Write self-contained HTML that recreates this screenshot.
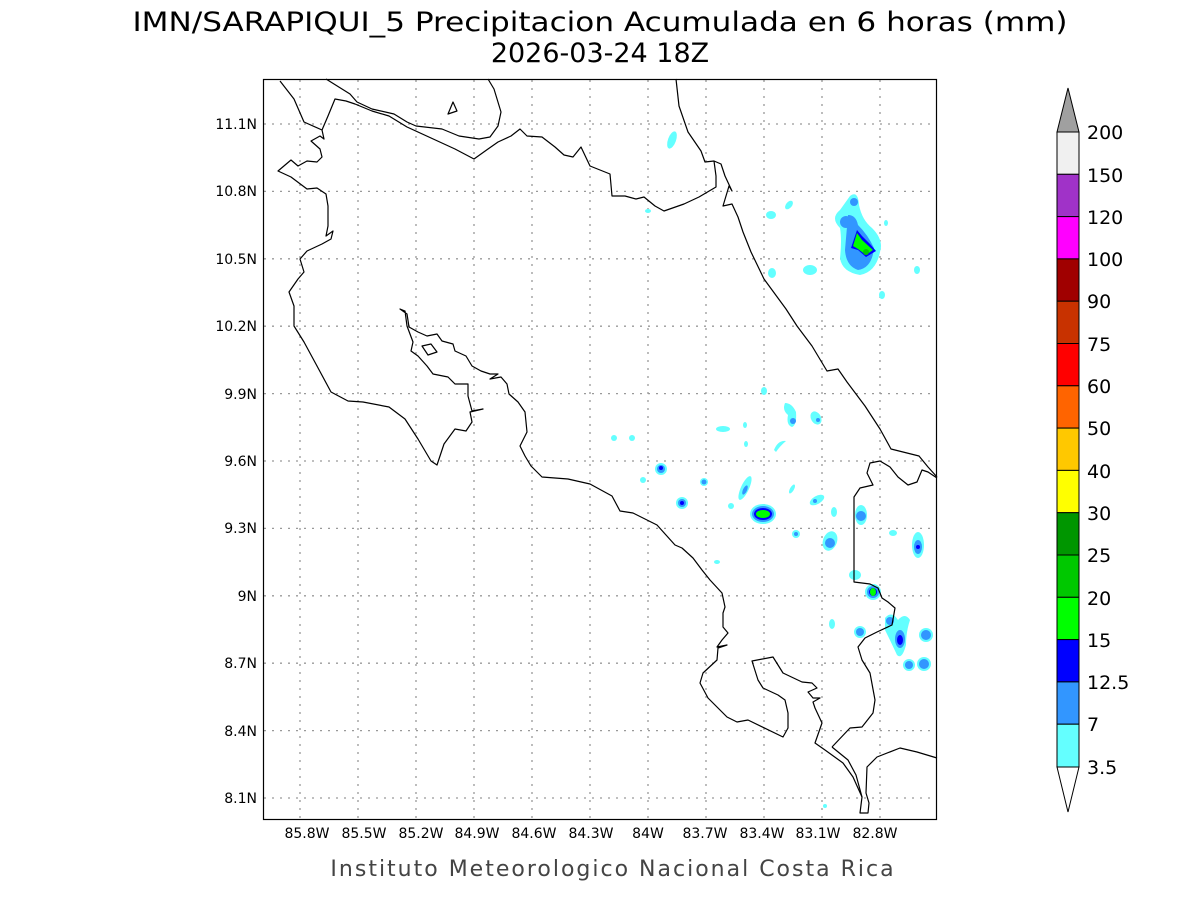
<!DOCTYPE html>
<html><head><meta charset="utf-8"><style>
body{margin:0;background:#fff}
svg{display:block}
text{font-family:"DejaVu Sans","Liberation Sans",sans-serif}
</style></head><body>
<svg width="1200" height="900" xmlns="http://www.w3.org/2000/svg">
<rect width="1200" height="900" fill="#fff"/>
<text x="600" y="31" font-size="27" text-anchor="middle" textLength="935" lengthAdjust="spacingAndGlyphs" fill="#000">IMN/SARAPIQUI_5 Precipitacion Acumulada en 6 horas (mm)</text>
<text x="600" y="62" font-size="27" text-anchor="middle" fill="#000">2026-03-24 18Z</text>
<g stroke="#999" stroke-width="1.3" stroke-dasharray="2,6" fill="none">
<path d="M300 80V819M358 80V819M416 80V819M474 80V819M532 80V819M590 80V819M648 80V819M706 80V819M764 80V819M822 80V819M880 80V819"/>
<path d="M264 124H937M264 191.4H937M264 258.8H937M264 326.2H937M264 393.6H937M264 461H937M264 528.4H937M264 595.8H937M264 663.2H937M264 730.6H937M264 798H937"/>
</g>
<!-- precip -->
<g>
<ellipse cx="672" cy="140" rx="4" ry="9" fill="#64ffff" transform="rotate(20 672 140)"/>
<path d="M850 196 Q858 190 859 205 Q862 220 872 228 Q884 240 880 252 Q876 272 860 275 Q842 272 840 258 Q842 240 840 228 Q830 218 840 210 Z" fill="#64ffff"/>
<path d="M848 215 Q856 215 858 225 Q868 235 874 248 Q872 268 858 270 Q846 266 845 250 Z" fill="#3296ff"/>
<circle cx="846" cy="222" r="6" fill="#3296ff"/><circle cx="854" cy="202" r="4" fill="#3296ff"/>
<path d="M857 230 L862 236 L870 244 L876 251 L866 257 L858 250 L851 248 Z" fill="#0000ff"/>
<path d="M857 233 L862 240 L873 250 L866 255 L858 249 L853 246 Z" fill="#00ff00"/>
<circle cx="866" cy="252" r="3" fill="#00c800"/>
<ellipse cx="771" cy="215" rx="5" ry="4" fill="#64ffff"/><ellipse cx="789" cy="205" rx="3" ry="5" fill="#64ffff" transform="rotate(40 789 205)"/>
<ellipse cx="810" cy="270" rx="7" ry="5" fill="#64ffff"/><ellipse cx="772" cy="273" rx="4" ry="5" fill="#64ffff"/>
<ellipse cx="917" cy="270" rx="3" ry="4" fill="#64ffff"/><ellipse cx="882" cy="295" rx="3" ry="4" fill="#64ffff"/>
<ellipse cx="886" cy="223" rx="2" ry="3" fill="#64ffff"/><ellipse cx="648" cy="211" rx="3" ry="2" fill="#64ffff"/>
<ellipse cx="764" cy="391" rx="3" ry="4" fill="#64ffff"/>
<path d="M785 403 Q792 403 796 412 Q797 425 792 427 Q786 425 788 415 Q782 410 785 403Z" fill="#64ffff"/><circle cx="793" cy="421" r="3" fill="#3296ff"/>
<ellipse cx="816" cy="418" rx="5" ry="7" fill="#64ffff" transform="rotate(-30 816 418)"/><circle cx="818" cy="420" r="2" fill="#3296ff"/>
<ellipse cx="723" cy="429" rx="7" ry="3" fill="#64ffff"/><ellipse cx="745" cy="425" rx="2" ry="3" fill="#64ffff"/>
<path d="M774 450 Q778 440 786 441 Q780 446 776 452Z" fill="#64ffff"/><ellipse cx="746" cy="444" rx="2" ry="3" fill="#64ffff"/>
<circle cx="614" cy="438" r="3" fill="#64ffff"/><circle cx="632" cy="438" r="3" fill="#64ffff"/>
<circle cx="661" cy="469" r="6" fill="#64ffff"/><circle cx="661" cy="469" r="4" fill="#3296ff"/><circle cx="661" cy="468" r="2" fill="#0000ff"/>
<circle cx="643" cy="480" r="3" fill="#64ffff"/><circle cx="704" cy="482" r="4" fill="#64ffff"/><circle cx="704" cy="482" r="2.5" fill="#3296ff"/>
<circle cx="682" cy="503" r="6" fill="#64ffff"/><circle cx="682" cy="503" r="4" fill="#3296ff"/><circle cx="682" cy="503" r="2" fill="#0000ff"/>
<ellipse cx="745" cy="488" rx="4" ry="13" fill="#64ffff" transform="rotate(25 745 488)"/><ellipse cx="745" cy="490" rx="2" ry="5" fill="#3296ff" transform="rotate(25 745 490)"/>
<circle cx="731" cy="506" r="3" fill="#64ffff"/>
<ellipse cx="763" cy="514" rx="13" ry="10" fill="#64ffff"/><ellipse cx="763" cy="514" rx="11" ry="8" fill="#3296ff"/><ellipse cx="763" cy="514" rx="9" ry="6" fill="#0000ff"/><ellipse cx="763" cy="514" rx="7" ry="4" fill="#00ff00"/>
<ellipse cx="792" cy="489" rx="2" ry="5" fill="#64ffff" transform="rotate(30 792 489)"/>
<circle cx="796" cy="534" r="4" fill="#64ffff"/><circle cx="796" cy="534" r="2" fill="#3296ff"/>
<ellipse cx="817" cy="500" rx="8" ry="4" fill="#64ffff" transform="rotate(-30 817 500)"/><circle cx="815" cy="501" r="2" fill="#3296ff"/>
<ellipse cx="834" cy="512" rx="3" ry="5" fill="#64ffff"/>
<ellipse cx="830" cy="541" rx="7" ry="10" fill="#64ffff" transform="rotate(20 830 541)"/><circle cx="830" cy="543" r="5" fill="#3296ff"/>
<ellipse cx="861" cy="515" rx="6" ry="10" fill="#64ffff"/><circle cx="861" cy="516" r="5" fill="#3296ff"/>
<ellipse cx="893" cy="533" rx="4" ry="3" fill="#64ffff"/><ellipse cx="918" cy="545" rx="6" ry="13" fill="#64ffff"/><ellipse cx="918" cy="547" rx="4" ry="7" fill="#3296ff"/><circle cx="918" cy="547" r="2" fill="#0000ff"/>
<ellipse cx="855" cy="575" rx="6" ry="5" fill="#64ffff"/>
<circle cx="873" cy="592" r="8" fill="#64ffff"/><circle cx="873" cy="592" r="6" fill="#3296ff"/><circle cx="873" cy="592" r="4" fill="#0000ff"/><ellipse cx="873" cy="592" rx="3" ry="4" fill="#00ff00"/>
<ellipse cx="832" cy="624" rx="3" ry="5" fill="#64ffff"/>
<circle cx="860" cy="632" r="6" fill="#64ffff"/><circle cx="860" cy="632" r="4" fill="#3296ff"/>
<path d="M885 618 Q892 610 898 620 Q905 612 910 620 Q906 632 906 645 Q902 660 897 655 Q890 640 885 630Z" fill="#64ffff"/>
<ellipse cx="900" cy="639" rx="5" ry="9" fill="#3296ff"/><ellipse cx="900" cy="640" rx="3" ry="5" fill="#0000ff"/><circle cx="890" cy="621" r="4" fill="#3296ff"/>
<circle cx="926" cy="635" r="7" fill="#64ffff"/><circle cx="926" cy="635" r="5" fill="#3296ff"/>
<circle cx="909" cy="665" r="6" fill="#64ffff"/><circle cx="909" cy="665" r="4" fill="#3296ff"/>
<circle cx="924" cy="664" r="7" fill="#64ffff"/><circle cx="924" cy="664" r="5" fill="#3296ff"/>
<ellipse cx="717" cy="562" rx="3" ry="2" fill="#64ffff"/><ellipse cx="825" cy="806" rx="2" ry="2" fill="#64ffff"/>
</g>
<!-- coastlines -->
<g fill="none" stroke="#000" stroke-width="1.2" stroke-linejoin="round">
<polyline points="280,81 294,99 304,122 322,130 324,139 320,136 311,141 320,149 322,157 317,162 307,161 298,166 291,160 278,171 291,177 307,189 317,188 326,194 328,206 328,226 326,236 333,231 331,239 322,244 307,251 300,259 304,272 298,279 289,292 294,306 294,326 304,342 317,366 331,392 348,401 363,402 389,407 405,419 418,439 431,461 437,465 444,444 455,429 466,431 472,422 470,412 483,409 472,411 468,396 468,384 455,384 448,377 433,374 427,366 418,356 411,351 413,342 407,326 405,311 400,309 407,314 409,327 418,332 427,336 437,334 442,341 453,344 455,351 466,356 472,366 481,371 490,374 498,374 490,379 501,377 507,384 509,394 518,402 525,412 527,432 520,446 525,456 531,466 542,477 568,479 590,484 612,496 620,511 633,513 657,525 675,545 682,548 693,558 702,570 710,580 722,593 725,607 723,613 723,627 728,633 722,640 717,647 727,645 718,648 717,660 703,673 700,683 708,698 727,717 737,722 748,720 783,737 788,728 788,713 785,700 778,695 763,688 758,680 752,661 773,657 783,673 802,682 812,683 817,688 808,692 813,698 820,698 813,702 815,708 822,723 815,743 825,750 843,763 853,777 862,797 860,813 868,813 869,803 866,793 867,767 877,757 900,748 917,752 937,758"/>
<polyline points="832,747 850,728 862,727 873,713 875,700 870,673 862,660 858,647 865,638 877,632 892,625 895,608 888,602 882,598 878,588 870,584 854,582 854,497 860,488 873,485 867,473 870,463 880,461 890,467 898,477 908,485 917,482 922,470 928,472 937,478"/>
<polyline points="832,747 848,760 856,775 862,797"/>
<polyline points="676,79 679,106 688,132 701,151 705,162 714,161 721,164 725,176 732,191 729,186 723,206 732,204 738,217 743,232 751,252 764,279 786,309 797,326 812,346 827,371 838,369 847,382 865,406 880,429 891,449 919,456 928,467 937,477"/>
<polyline points="714,161 716,176 716,187 699,197 684,204 664,211 655,206 644,197 636,199 625,196 612,196 610,174 590,166 581,147 573,157 564,155 555,147 542,137 527,136 520,129 511,136 498,142 488,149 474,159 455,149 407,127 389,116 372,111 355,104 346,101 335,99 328,116 322,130"/>
<polyline points="326,79 350,94 357,102 372,109 394,114 407,122 416,126 442,129 459,136 479,139 490,137 498,126 501,112 494,89 488,79"/>
<polygon points="448,114 453,102 457,111"/>
<polygon points="422,346 431,344 437,352 428,355"/>
</g>
<rect x="263.5" y="79.5" width="673" height="740" fill="none" stroke="#000" stroke-width="1.2"/>
<g font-size="14" fill="#000" text-anchor="end">
<text x="257" y="129">11.1N</text><text x="257" y="196">10.8N</text><text x="257" y="264">10.5N</text><text x="257" y="331">10.2N</text><text x="257" y="399">9.9N</text><text x="257" y="466">9.6N</text><text x="257" y="533">9.3N</text><text x="257" y="601">9N</text><text x="257" y="668">8.7N</text><text x="257" y="736">8.4N</text><text x="257" y="803">8.1N</text>
</g>
<g font-size="14" fill="#000" text-anchor="middle">
<text x="307" y="838">85.8W</text><text x="364" y="838">85.5W</text><text x="421" y="838">85.2W</text><text x="477" y="838">84.9W</text><text x="534" y="838">84.6W</text><text x="591" y="838">84.3W</text><text x="648" y="838">84W</text><text x="705" y="838">83.7W</text><text x="762" y="838">83.4W</text><text x="818" y="838">83.1W</text><text x="875" y="838">82.8W</text>
</g>
<text x="613" y="876" font-size="22" text-anchor="middle" fill="#444" letter-spacing="2">Instituto Meteorologico Nacional Costa Rica</text>
<!-- colorbar -->
<g stroke="#000" stroke-width="1">
<polygon points="1057,132 1079,132 1068,88" fill="#a0a0a0"/>
<rect x="1057" y="132" width="22" height="42.3" fill="#f0f0f0"/>
<rect x="1057" y="174.3" width="22" height="42.3" fill="#a032c8"/>
<rect x="1057" y="216.6" width="22" height="42.3" fill="#ff00ff"/>
<rect x="1057" y="258.9" width="22" height="42.3" fill="#a00000"/>
<rect x="1057" y="301.2" width="22" height="42.3" fill="#c83200"/>
<rect x="1057" y="343.5" width="22" height="42.3" fill="#ff0000"/>
<rect x="1057" y="385.8" width="22" height="42.3" fill="#ff6400"/>
<rect x="1057" y="428.1" width="22" height="42.3" fill="#ffc800"/>
<rect x="1057" y="470.4" width="22" height="42.3" fill="#ffff00"/>
<rect x="1057" y="512.7" width="22" height="42.3" fill="#009600"/>
<rect x="1057" y="555" width="22" height="42.3" fill="#00c800"/>
<rect x="1057" y="597.3" width="22" height="42.3" fill="#00ff00"/>
<rect x="1057" y="639.6" width="22" height="42.3" fill="#0000ff"/>
<rect x="1057" y="681.9" width="22" height="42.3" fill="#3296ff"/>
<rect x="1057" y="724.2" width="22" height="42.8" fill="#64ffff"/>
<polygon points="1057,767 1079,767 1068,812" fill="#fff"/>
</g>
<g font-size="19" fill="#000">
<text x="1087" y="139">200</text><text x="1087" y="182">150</text><text x="1087" y="224">120</text><text x="1087" y="266">100</text><text x="1087" y="308">90</text><text x="1087" y="351">75</text><text x="1087" y="393">60</text><text x="1087" y="435">50</text><text x="1087" y="478">40</text><text x="1087" y="520">30</text><text x="1087" y="562">25</text><text x="1087" y="605">20</text><text x="1087" y="647">15</text><text x="1087" y="689">12.5</text><text x="1087" y="731">7</text><text x="1087" y="774">3.5</text>
</g>
</svg>
</body></html>
